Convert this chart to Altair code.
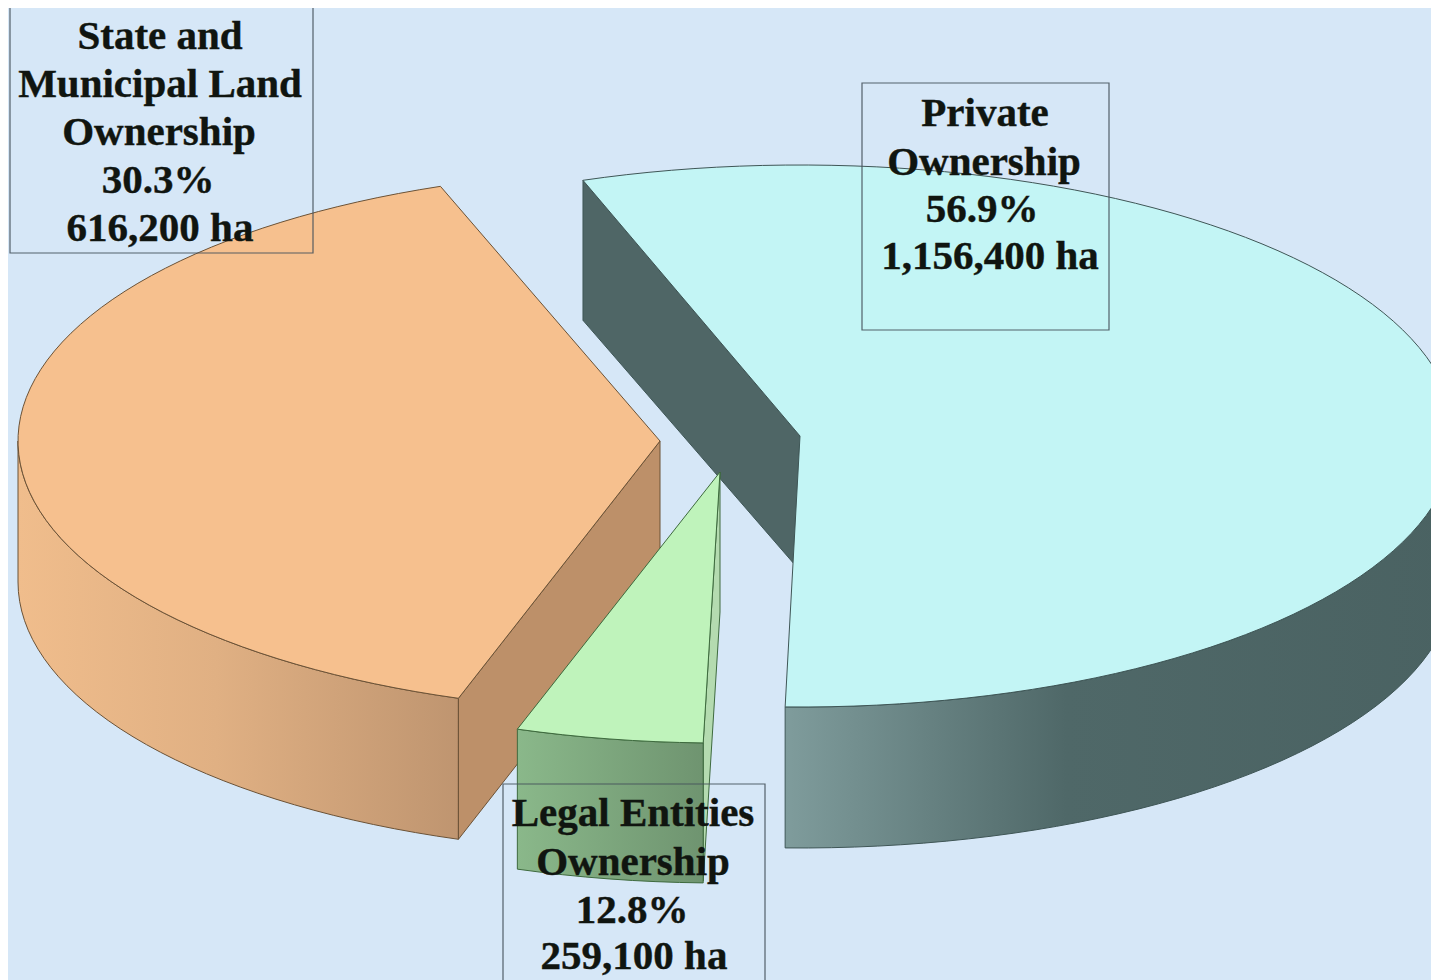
import math
import altair as alt
import pandas as pd

# ---- values ----
slice_names = ["Private Ownership", "State and Municipal Land Ownership", "Legal Entities Ownership"]
share_pct = ["56.9%", "30.3%", "12.8%"]
hectares = ["1,156,400 ha", "616,200 ha", "259,100 ha"]
# drawn sweep of each slice on the tilted pie, degrees clockwise from the top
start_deg = [-19.35, 198.3, 181.5]
end_deg = [181.3, 340.0, 198.4]

# ---- drawing set-up ----
W, H = 1439, 980
MARGIN = 8
DEPTH = 141
centres = [(800, 436), (660, 441), (720, 472)]
radii = [(655, 271), (642, 271), (642, 271)]

xs = alt.Scale(domain=[MARGIN, W - MARGIN], nice=False, zero=False)
ys = alt.Scale(domain=[H, MARGIN], nice=False, zero=False)


def rim_point(k, deg, drop=0):
    cx, cy = centres[k]
    a, b = radii[k]
    t = math.radians(deg)
    return (cx + a * math.sin(t), cy - b * math.cos(t) + drop)


def arc(k, d0, d1, drop=0, step=2.0):
    n = max(2, int(abs(d1 - d0) / step) + 1)
    return [rim_point(k, d0 + (d1 - d0) * i / (n - 1), drop) for i in range(n)]


def poly(points, fill, stroke, sw=1.0):
    pts = list(points) + [points[0]]
    df = pd.DataFrame({"x": [p[0] for p in pts], "y": [p[1] for p in pts], "i": range(len(pts))})
    return alt.Chart(df).mark_line(fill=fill, stroke=stroke, strokeWidth=sw, clip=True, strokeJoin="round").encode(
        x=alt.X("x:Q", scale=xs, axis=None),
        y=alt.Y("y:Q", scale=ys, axis=None),
        order=alt.Order("i:Q"),
    )


def grad(*stops):
    return alt.Gradient(
        gradient="linear", x1=0, x2=1, y1=0, y2=0,
        stops=[alt.GradientStop(offset=o, color=c) for o, c in stops],
    )


LINE_BLUE = "#3f5656"
LINE_ORANGE = "#6b5236"
LINE_GREEN = "#3e6a3e"
layers = []

# State and municipal slice
c = centres[1]
layers.append(poly(arc(1, start_deg[1], 270) + arc(1, 270, start_deg[1], DEPTH),
                   grad((0, "#f0bd8c"), (0.45, "#e0b083"), (1, "#bf9570")), LINE_ORANGE))
layers.append(poly([c, rim_point(1, start_deg[1]), rim_point(1, start_deg[1], DEPTH), (c[0], c[1] + DEPTH)],
                   "#bd9069", LINE_ORANGE))
layers.append(poly([c] + arc(1, start_deg[1], end_deg[1]), "#f6c08e", LINE_ORANGE))

# Private slice
c = centres[0]
s0 = rim_point(0, start_deg[0])
layers.append(poly([s0, c, (795, 565), (s0[0], s0[1] + 140)], "#4f6666", LINE_BLUE))
layers.append(poly(arc(0, end_deg[0], 90) + arc(0, 90, end_deg[0], DEPTH),
                   grad((0, "#7f9c9c"), (0.42, "#4f6868"), (1, "#4a6262")), LINE_BLUE))
layers.append(poly([c] + arc(0, start_deg[0], end_deg[0]), "#c3f5f5", LINE_BLUE))

# Legal entities slice
c = centres[2]
e0, e1 = rim_point(2, start_deg[2]), rim_point(2, end_deg[2])
layers.append(poly([c, e0, (e0[0], e0[1] + 138), (c[0], c[1] + 140)], "#b4dbb0", LINE_GREEN))
layers.append(poly(arc(2, start_deg[2], end_deg[2]) + arc(2, end_deg[2], start_deg[2], DEPTH - 1),
                   grad((0, "#8ab88a"), (1, "#6f9470")), LINE_GREEN))
layers.append(poly([c] + arc(2, start_deg[2], end_deg[2]), "#bff3bb", LINE_GREEN))

# Label boxes
boxes = pd.DataFrame({
    "x": [10, 862, 503], "x2": [313, 1109, 765],
    "y": [7, 83, 784], "y2": [253, 330, 1000],
})
layers.append(alt.Chart(boxes).mark_rect(fill=None, stroke="#46525c", strokeWidth=1.2, clip=True, opacity=0.9).encode(
    x=alt.X("x:Q", scale=xs, axis=None), x2="x2:Q",
    y=alt.Y("y:Q", scale=ys, axis=None), y2="y2:Q",
))

# Label text
rows = [
    ("State and", 160, 37), ("Municipal Land", 160, 85), ("Ownership", 159, 133),
    (share_pct[1], 158, 181), (hectares[1], 160, 229),
    ("Private", 985, 114), ("Ownership", 984, 163), (share_pct[0], 982, 210), (hectares[0], 990, 257),
    ("Legal Entities", 633, 814), ("Ownership", 633, 863), (share_pct[2], 632, 911), (hectares[2], 634, 957),
]
labels = pd.DataFrame(rows, columns=["t", "x", "y"])
layers.append(alt.Chart(labels).mark_text(
    font="Liberation Serif", fontWeight="bold", fontSize=41, color="#101510", baseline="middle", align="center",
    stroke="#101510", strokeWidth=0.4,
).encode(
    x=alt.X("x:Q", scale=xs, axis=None),
    y=alt.Y("y:Q", scale=ys, axis=None),
    text="t:N",
))

chart = alt.layer(*layers).properties(
    width=W - 2 * MARGIN, height=H - MARGIN, background="#d6e7f7",
    padding=0, autosize=alt.AutoSizeParams(type="none"),
).configure_view(stroke=None)

chart.save("out.html", embed_options={"renderer": "svg", "actions": False})
